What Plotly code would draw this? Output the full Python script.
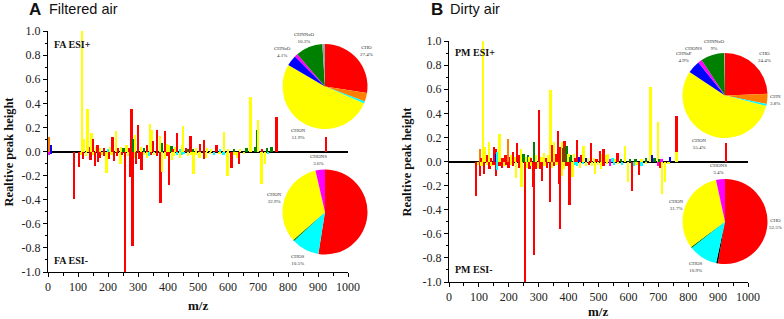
import plotly.graph_objects as go

W, H = 784, 319

# ---------------- DATA ----------------
# class codes: r=CHO, o=CHN, c=CHOS, y=CHON, b=blue class, m=CHONS, g=green class, k=black
fa_pos_mz = [5, 10, 114, 121, 132, 140, 146, 151, 160, 166, 175, 188, 200, 208, 216, 227, 235, 245, 252, 262,
             270, 279, 283, 290, 301, 310, 320, 330, 340, 346, 351, 364, 373, 381, 390, 397, 403, 412, 418, 425,
             431, 440, 447, 451, 460, 468, 476, 485, 495, 507, 520, 530, 545, 562, 575, 588, 600, 620, 640, 662,
             676, 690, 698, 701, 715, 730, 746, 762, 927]
fa_pos_h = [0.12, 0.05, 1.0, 0.10, 0.35, 0.04, 0.155, 0.105, 0.04, 0.05, 0.03, 0.03, 0.02, 0.04, 0.12, 0.17, 0.03, 0.04, 0.03, 0.05,
            0.03, 0.355, 0.10, 0.14, 0.22, 0.04, 0.03, 0.05, 0.23, 0.18, 0.09, 0.18, 0.13, 0.07, 0.17, 0.06, 0.05, 0.045, 0.02, 0.04,
            0.155, 0.02, 0.05, 0.21, 0.03, 0.02, 0.13, 0.02, 0.03, 0.06, 0.095, 0.03, 0.02, 0.055, 0.02, 0.16, 0.02, 0.02, 0.02, 0.025,
            0.45, 0.04, 0.18, 0.26, 0.02, 0.03, 0.04, 0.29, 0.12]
fa_pos_c = ["o", "b", "y", "y", "y", "r", "y", "r", "y", "r", "y", "r", "c", "y", "r", "y", "r", "y", "g", "y",
            "r", "r", "g", "y", "r", "y", "g", "r", "y", "y", "r", "r", "y", "g", "r", "y", "y", "g", "r", "y",
            "r", "c", "y", "y", "r", "g", "r", "g", "y", "r", "r", "y", "y", "r", "c", "y", "y", "g", "y", "g",
            "y", "g", "g", "y", "r", "g", "g", "r", "r"]

fa_neg_mz = [5, 10, 88, 103, 110, 118, 128, 142, 150, 157, 167, 173, 180, 188, 196, 204, 212, 221, 230, 242,
             248, 257, 268, 276, 282, 290, 295, 303, 312, 320, 330, 338, 345, 355, 365, 376, 380, 390, 397, 403,
             414, 420, 430, 440, 447, 455, 467, 478, 486, 495, 506, 520, 528, 540, 555, 572, 586, 599, 612, 622,
             630, 638, 655, 712, 723, 735]
fa_neg_h = [-0.03, -0.02, -0.39, -0.127, -0.03, -0.06, -0.04, -0.07, -0.03, -0.12, -0.09, -0.05, -0.03, -0.04, -0.18, -0.06, -0.03, -0.08, -0.04, -0.10,
            -0.03, -1.0, -0.04, -0.21, -0.785, -0.05, -0.10, -0.06, -0.15, -0.03, -0.05, -0.04, -0.03, -0.03, -0.04, -0.43, -0.17, -0.06, -0.04, -0.28,
            -0.07, -0.04, -0.03, -0.05, -0.03, -0.02, -0.04, -0.03, -0.19, -0.03, -0.05, -0.06, -0.05, -0.02, -0.03, -0.02, -0.03, -0.20, -0.14, -0.03,
            -0.05, -0.10, -0.02, -0.27, -0.10, -0.02]
fa_neg_c = ["m", "b", "r", "r", "y", "r", "y", "r", "y", "r", "r", "r", "y", "r", "y", "r", "y", "r", "r", "y",
            "r", "r", "y", "r", "r", "y", "r", "r", "r", "y", "y", "c", "r", "y", "r", "r", "y", "y", "r", "r",
            "y", "y", "c", "y", "c", "c", "y", "y", "y", "y", "y", "r", "y", "y", "c", "y", "c", "y", "r", "y",
            "y", "r", "y", "y", "y", "c"]

pm_pos_mz = [104, 110, 115, 120, 127, 134, 142, 151, 156, 160, 163, 170, 180, 190, 198, 205, 210, 216, 222, 228,
             235, 242, 250, 258, 265, 270, 276, 284, 292, 301, 310, 318, 326, 333, 340, 346, 352, 360, 366, 372,
             378, 383, 387, 394, 400, 405, 410, 418, 424, 430, 437, 444, 451, 458, 466, 476, 485, 494, 505, 512,
             518, 525, 532, 540, 548, 556, 564, 575, 590, 605, 625, 645, 660, 672, 675, 680, 688, 700, 705, 712,
             740, 762, 762, 927]
pm_pos_h = [0.10, 0.03, 1.0, 0.12, 0.05, 0.16, 0.03, 0.12, 0.10, 0.06, 0.08, 0.23, 0.03, 0.05, 0.19, 0.04, 0.05, 0.08, 0.04, 0.15,
            0.05, 0.10, 0.06, 0.04, 0.05, 0.04, 0.03, 0.16, 0.05, 0.43, 0.04, 0.07, 0.03, 0.05, 0.59, 0.14, 0.16, 0.06, 0.25, 0.12,
            0.16, 0.11, 0.17, 0.13, 0.06, 0.04, 0.05, 0.06, 0.03, 0.175, 0.04, 0.05, 0.13, 0.03, 0.03, 0.15, 0.03, 0.02, 0.09, 0.06,
            0.10, 0.05, 0.06, 0.02, 0.03, 0.02, 0.07, 0.02, 0.13, 0.02, 0.02, 0.02, 0.03, 0.04, 0.62, 0.05, 0.03, 0.33, 0.02, 0.02,
            0.04, 0.375, 0.08, 0.15]
pm_pos_c = ["o", "r", "y", "y", "r", "y", "r", "r", "r", "b", "c", "y", "r", "r", "o", "r", "y", "r", "y", "r",
            "r", "y", "g", "y", "g", "y", "r", "g", "y", "r", "y", "y", "r", "y", "y", "r", "y", "r", "r", "r",
            "y", "g", "r", "g", "y", "g", "g", "y", "r", "r", "b", "r", "y", "b", "y", "r", "y", "r", "r", "y",
            "r", "y", "y", "m", "c", "y", "r", "g", "y", "g", "g", "y", "g", "g", "y", "b", "g", "y", "g", "m",
            "b", "r", "y", "r"]

pm_neg_mz = [90, 97, 104, 110, 118, 128, 136, 143, 150, 157, 162, 170, 178, 186, 193, 200, 208, 215, 226, 234,
             243, 255, 262, 270, 277, 282, 285, 292, 300, 305, 312, 320, 328, 339, 346, 352, 360, 368, 373, 378,
             386, 394, 404, 414, 422, 430, 440, 450, 460, 470, 480, 488, 498, 508, 518, 530, 540, 552, 565, 580,
             599, 612, 620, 628, 636, 645, 660, 700, 706, 713, 724, 735]
pm_neg_h = [-0.29, -0.03, -0.12, -0.04, -0.10, -0.03, -0.06, -0.04, -0.03, -0.12, -0.07, -0.04, -0.05, -0.04, -0.03, -0.05, -0.03, -0.04, -0.14, -0.05,
            -0.21, -1.0, -0.05, -0.06, -0.04, -0.21, -0.78, -0.06, -0.05, -0.06, -0.165, -0.04, -0.05, -0.34, -0.05, -0.04, -0.03, -0.19, -0.56, -0.12,
            -0.06, -0.04, -0.36, -0.13, -0.03, -0.04, -0.05, -0.02, -0.04, -0.03, -0.04, -0.10, -0.03, -0.06, -0.04, -0.02, -0.04, -0.03, -0.02, -0.03,
            -0.17, -0.245, -0.04, -0.03, -0.115, -0.04, -0.02, -0.04, -0.05, -0.27, -0.17, -0.02]
pm_neg_c = ["r", "y", "r", "y", "r", "y", "r", "y", "r", "r", "c", "r", "r", "y", "r", "r", "y", "r", "y", "r",
            "y", "r", "y", "r", "y", "r", "r", "r", "y", "r", "r", "y", "r", "r", "y", "r", "y", "r", "r", "y",
            "y", "r", "r", "y", "c", "c", "y", "c", "y", "r", "y", "y", "y", "y", "r", "y", "m", "c", "y", "c",
            "y", "r", "c", "y", "r", "c", "y", "m", "r", "y", "y", "y"]

# pie charts (clockwise from 12 o'clock)
fa_pos_pie_lab = ["CHO", "CHN", "CHOS", "CHON", "CHNaO", "CHONS", "CHNNaO", "Other"]
fa_pos_pie_val = [27.4, 3.3, 0.8, 51.9, 4.1, 1.2, 10.3, 1.0]
fa_neg_pie_lab = ["CHO", "CHOS", "CHNNaO", "CHON", "CHONS"]
fa_neg_pie_val = [52.5, 10.5, 0.5, 32.9, 3.6]
pm_pos_pie_lab = ["CHO", "CHN", "CHOS", "CHON", "CHNaP", "CHONS", "CHNNaO", "Other"]
pm_pos_pie_val = [24.4, 3.8, 0.8, 55.4, 4.9, 1.5, 9.0, 0.3]
pm_neg_pie_lab = ["CHO", "Black", "CHOS", "CHNNaO", "CHON", "CHONS"]
pm_neg_pie_val = [52.5, 0.7, 10.9, 0.5, 31.7, 3.4]

x_ticks = [0, 100, 200, 300, 400, 500, 600, 700, 800, 900, 1000]
y_ticks = [-1.0, -0.8, -0.6, -0.4, -0.2, 0.0, 0.2, 0.4, 0.6, 0.8, 1.0]

# ---------------- STYLE ----------------
CLS_COL = {"r": "#ff0000", "o": "#ff8000", "c": "#00ffff", "y": "#ffff00",
           "b": "#0000ff", "m": "#ff00ff", "g": "#008000", "k": "#000000"}
PIE_COL = {"CHO": "#ff0000", "CHN": "#ff8000", "CHOS": "#00ffff", "CHON": "#ffff00",
           "CHNaO": "#0000ff", "CHNaP": "#0000ff", "CHONS": "#ff00ff", "CHNNaO": "#008000",
           "Other": "#a0a0a0", "Black": "#000000"}
SERIF = "Liberation Serif, Times New Roman, serif"
SANS = "Liberation Sans, Arial, sans-serif"


def px(x, y):
    return x / W, 1 - y / H


def dom(x0, x1, y0, y1):
    return dict(x=[x0 / W, x1 / W], y=[1 - y1 / H, 1 - y0 / H])


# plot boxes (pixels): left, right, top, bottom
boxA = (48, 348, 31, 272)
boxB = (449, 748, 41, 282)

fig = go.Figure()

def add_bars(mz, h, c, xa, ya):
    fig.add_trace(go.Bar(x=mz, y=h, width=6, marker=dict(color=[CLS_COL[k] for k in c], line=dict(width=0)),
                         xaxis=xa, yaxis=ya, showlegend=False, hoverinfo="x+y"))

add_bars(fa_pos_mz, fa_pos_h, fa_pos_c, "x", "y")
add_bars(fa_neg_mz, fa_neg_h, fa_neg_c, "x", "y")
add_bars(pm_pos_mz, pm_pos_h, pm_pos_c, "x2", "y2")
add_bars(pm_neg_mz, pm_neg_h, pm_neg_c, "x2", "y2")

def add_pie(lab, val, d):
    fig.add_trace(go.Pie(labels=lab, values=val, sort=False, direction="clockwise", rotation=0,
                         marker=dict(colors=[PIE_COL[l] for l in lab], line=dict(width=0)),
                         textinfo="none", domain=d, showlegend=False, hoverinfo="label+percent",
                         automargin=False))

R = 42.5
add_pie(fa_pos_pie_lab, fa_pos_pie_val, dom(325 - R, 325 + R, 86.5 - R, 86.5 + R))
add_pie(fa_neg_pie_lab, fa_neg_pie_val, dom(325 - R, 325 + R, 212 - R, 212 + R))
add_pie(pm_pos_pie_lab, pm_pos_pie_val, dom(725 - R, 725 + R, 95.5 - R, 95.5 + R))
add_pie(pm_neg_pie_lab, pm_neg_pie_val, dom(725 - R, 725 + R, 221.5 - R, 221.5 + R))

def axis_x(box, anchor):
    return dict(domain=[box[0] / W, box[1] / W], range=[0, 1000], anchor=anchor, automargin=False,
                tickmode="array", tickvals=x_ticks, ticktext=[str(v) for v in x_ticks],
                ticks="outside", ticklen=4, tickwidth=1, tickcolor="black",
                minor=dict(tickmode="array", tickvals=[v + 50 for v in x_ticks[:-1]], ticks="outside",
                           ticklen=2.5, tickcolor="black", showgrid=False),
                showline=True, linecolor="black", linewidth=1, showgrid=False, zeroline=False,
                tickfont=dict(family=SERIF, size=12, color="#222"))

def axis_y(box, anchor):
    return dict(domain=[1 - box[3] / H, 1 - box[2] / H], range=[-1, 1], anchor=anchor, automargin=False,
                tickmode="array", tickvals=y_ticks, ticktext=[f"{v:.1f}" for v in y_ticks],
                ticks="outside", ticklen=4, tickwidth=1, tickcolor="black",
                minor=dict(tickmode="array", tickvals=[round(v + 0.1, 1) for v in y_ticks[:-1]], ticks="outside",
                           ticklen=2.5, tickcolor="black", showgrid=False),
                showline=True, linecolor="black", linewidth=1, showgrid=False,
                zeroline=True, zerolinecolor="black", zerolinewidth=1.5,
                tickfont=dict(family=SERIF, size=12, color="#222"))

ann = []
def text(x, y, s, size, family=SERIF, bold=False, xanchor="left", angle=0, color="#111"):
    xx, yy = px(x, y)
    ann.append(dict(x=xx, y=yy, xref="paper", yref="paper", text=f"<b>{s}</b>" if bold else s,
                    showarrow=False, xanchor=xanchor, yanchor="middle", textangle=angle,
                    font=dict(family=family, size=size, color=color)))

# panel titles
text(27, 9, "A", 17, SANS, bold=True)
text(47, 9, "Filtered air", 14.5, SANS)
text(429, 9, "B", 17, SANS, bold=True)
text(448, 9.5, "Dirty air", 14.5, SANS)
# axis titles
text(8, 151.5, "Realtive peak height", 12.5, bold=True, xanchor="center", angle=-90)
text(406, 161.5, "Realtive peak height", 12.5, bold=True, xanchor="center", angle=-90)
text(198, 305, "m/z", 13, bold=True, xanchor="center")
text(598, 311, "m/z", 13, bold=True, xanchor="center")
# spectrum labels
text(52, 44, "FA ESI+", 10, bold=True)
text(52, 260, "FA ESI-", 10, bold=True)
text(453, 53, "PM ESI+", 10, bold=True)
text(453, 269, "PM ESI-", 10, bold=True)

# pie labels
def pie_label(lab, val, name, x, y):
    v = val[lab.index(name)]
    text(x, y, f"{name}<br>{v:g}%", 5, xanchor="center", color="#333")

pie_label(fa_pos_pie_lab, fa_pos_pie_val, "CHNNaO", 304, 38)
pie_label(fa_pos_pie_lab, fa_pos_pie_val, "CHNaO", 282, 52)
pie_label(fa_pos_pie_lab, fa_pos_pie_val, "CHO", 366, 51)
pie_label(fa_pos_pie_lab, fa_pos_pie_val, "CHON", 298, 134)
pie_label(fa_neg_pie_lab, fa_neg_pie_val, "CHONS", 318, 160)
pie_label(fa_neg_pie_lab, fa_neg_pie_val, "CHON", 274, 198)
pie_label(fa_neg_pie_lab, fa_neg_pie_val, "CHOS", 298, 260)
pie_label(pm_pos_pie_lab, pm_pos_pie_val, "CHNNaO", 714, 45)
text(693, 48, "CHONS", 5, xanchor="center", color="#333")
pie_label(pm_pos_pie_lab, pm_pos_pie_val, "CHNaP", 684, 57)
pie_label(pm_pos_pie_lab, pm_pos_pie_val, "CHO", 764, 57)
pie_label(pm_pos_pie_lab, pm_pos_pie_val, "CHN", 775, 100)
pie_label(pm_pos_pie_lab, pm_pos_pie_val, "CHON", 699, 144)
pie_label(pm_neg_pie_lab, pm_neg_pie_val, "CHONS", 718, 169)
pie_label(pm_neg_pie_lab, pm_neg_pie_val, "CHON", 676, 205)
pie_label(pm_neg_pie_lab, pm_neg_pie_val, "CHO", 775, 224)
pie_label(pm_neg_pie_lab, pm_neg_pie_val, "CHOS", 696, 267)

fig.update_layout(
    width=W, height=H, margin=dict(l=0, r=0, t=0, b=0, autoexpand=False),
    paper_bgcolor="white", plot_bgcolor="white", barmode="overlay", bargap=0,
    xaxis=axis_x(boxA, "y"), yaxis=axis_y(boxA, "x"),
    xaxis2=axis_x(boxB, "y2"), yaxis2=axis_y(boxB, "x2"),
    annotations=ann, showlegend=False,
)

fig.write_html("out.html", config={"displayModeBar": False},
               post_script="document.body.style.margin='0';document.body.style.overflow='hidden';")
